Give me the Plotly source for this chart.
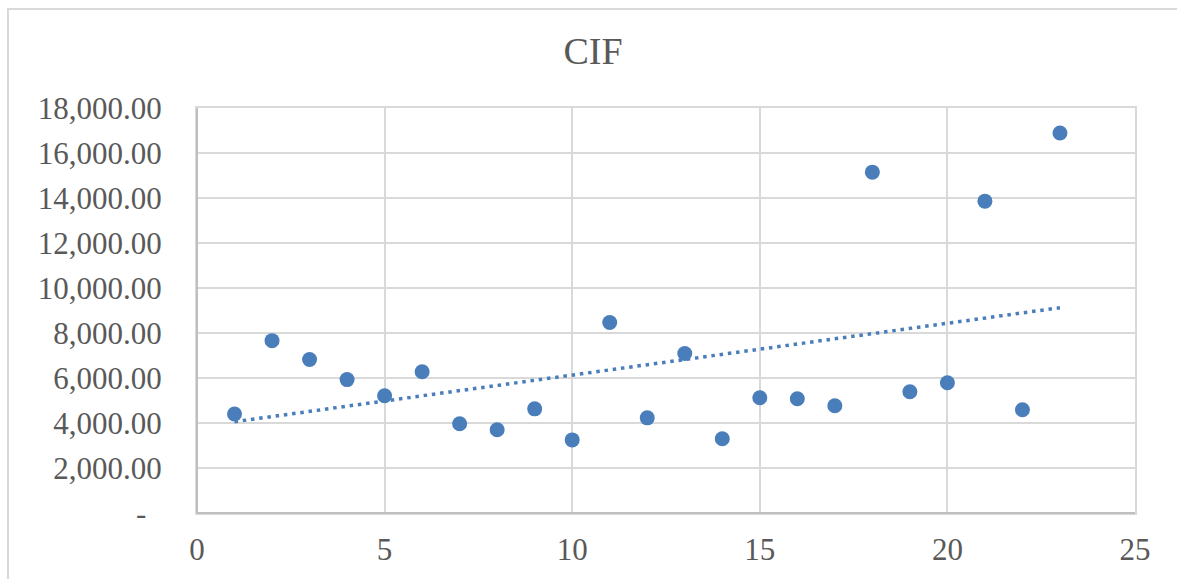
import numpy as np
import plotly.graph_objects as go

# Data
x_vals = list(range(1, 24))
cif_vals = [4400, 7660, 6820, 5930, 5210, 6280, 3970, 3700, 4630, 3250,
            8470, 4230, 7090, 3300, 5120, 5080, 4770, 15150, 5390, 5790,
            13860, 4590, 16890]
y_tickvals = [0, 2000, 4000, 6000, 8000, 10000, 12000, 14000, 16000, 18000]
y_ticktext = ["-\u00a0\u00a0"] + [f"{v:,.2f}" for v in y_tickvals[1:]]
x_tickvals = [0, 5, 10, 15, 20, 25]
title_text = "CIF"

# Linear trendline (least squares), as Excel does
slope, intercept = np.polyfit(x_vals, cif_vals, 1)
trend_x = [x_vals[0], x_vals[-1]]
trend_y = [slope * xv + intercept for xv in trend_x]

color = "#4a7ebb"
font_family = "Liberation Serif, Times New Roman, serif"
text_color = "#595959"

fig = go.Figure()
fig.add_trace(go.Scatter(
    x=trend_x, y=trend_y, mode="lines",
    line=dict(color=color, width=3.5, dash="3.5px,4.8px"),
    hoverinfo="skip", showlegend=False,
))
fig.add_trace(go.Scatter(
    x=x_vals, y=cif_vals, mode="markers",
    marker=dict(color=color, size=15, line=dict(width=0)),
    showlegend=False,
))

W, H = 1177, 579
L, R, T, B = 197, 42, 108, 66
pw, ph = W - L - R, H - T - B

fig.update_layout(
    width=W, height=H,
    margin=dict(l=L, r=R, t=T, b=B, pad=0),
    paper_bgcolor="white", plot_bgcolor="white",
    title=dict(text=title_text, x=(593) / W, xanchor="center",
               y=1 - 51 / H, yanchor="middle",
               font=dict(family=font_family, size=38, color=text_color)),
    font=dict(family=font_family, size=31, color=text_color),
    xaxis=dict(range=[0, 25], tickvals=x_tickvals, showgrid=True,
               gridcolor="#d9d9d9", gridwidth=2, zeroline=False,
               showline=True, linecolor="#d9d9d9", linewidth=2, mirror=True,
               ticks="", ticklabelstandoff=8, automargin=False,
               tickfont=dict(family=font_family, size=31, color=text_color)),
    yaxis=dict(range=[0, 18000], tickvals=y_tickvals, ticktext=y_ticktext,
               showgrid=True, gridcolor="#d9d9d9", gridwidth=2, zeroline=False,
               showline=True, linecolor="#d9d9d9", linewidth=2, mirror=True,
               ticks="", ticklabelstandoff=27, automargin=False,
               tickfont=dict(family=font_family, size=31, color=text_color)),
)

# left/bottom axis lines slightly darker like Excel
fig.add_shape(type="line", xref="paper", yref="paper", x0=0, x1=0, y0=0, y1=1,
              line=dict(color="#bfbfbf", width=2), layer="above")
fig.add_shape(type="line", xref="paper", yref="paper", x0=0, x1=1, y0=0, y1=0,
              line=dict(color="#bfbfbf", width=2), layer="above")

# Outer chart frame (cropped on right and bottom)
fig.add_shape(type="rect", xref="paper", yref="paper",
              x0=(8 - L) / pw, x1=(W + 20 - L) / pw,
              y0=-(B + 20) / ph, y1=(H - B - 9) / ph,
              line=dict(color="#d9d9d9", width=2), layer="below")

fig.write_html("out.html", config={"displayModeBar": False},
               post_script="document.body.style.margin='0';")
